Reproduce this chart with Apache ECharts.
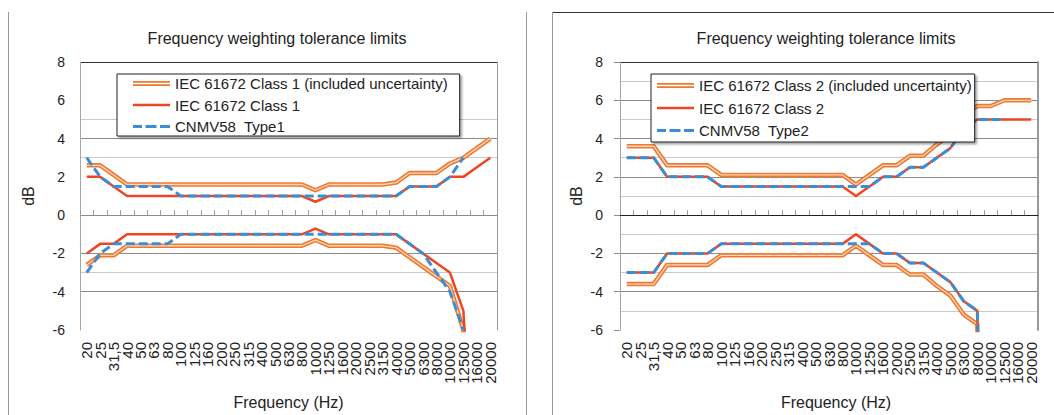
<!DOCTYPE html>
<html><head><meta charset="utf-8">
<script src="https://cdn.jsdelivr.net/npm/echarts@6/dist/echarts.min.js"></script>
<style>html,body{margin:0;padding:0;background:#fff}#c{width:1054px;height:415px}</style>
</head><body><div id="c"></div>
<script>
const categories = ['20','25','31,5','40','50','63','80','100','125','160','200','250','315','400','500','630','800','1000','1250','1600','2000','2500','3150','4000','5000','6300','8000','10000','12500','16000','20000'];

// Left chart (Class 1 / Type 1)
const c1UncUpper = [2.6,2.6,2.1,1.6,1.6,1.6,1.6,1.6,1.6,1.6,1.6,1.6,1.6,1.6,1.6,1.6,1.6,1.3,1.6,1.6,1.6,1.6,1.6,1.7,2.2,2.2,2.2,2.7,3.0,3.5,4.0];
const c1UncLower = [-2.6,-2.1,-2.1,-1.6,-1.6,-1.6,-1.6,-1.6,-1.6,-1.6,-1.6,-1.6,-1.6,-1.6,-1.6,-1.6,-1.6,-1.3,-1.6,-1.6,-1.6,-1.6,-1.6,-1.7,-2.2,-2.7,-3.2,-3.7,-6.0,-17,null];
const c1Upper = [2.0,2.0,1.5,1.0,1.0,1.0,1.0,1.0,1.0,1.0,1.0,1.0,1.0,1.0,1.0,1.0,1.0,0.7,1.0,1.0,1.0,1.0,1.0,1.0,1.5,1.5,1.5,2.0,2.0,2.5,3.0];
const c1Lower = [-2.0,-1.5,-1.5,-1.0,-1.0,-1.0,-1.0,-1.0,-1.0,-1.0,-1.0,-1.0,-1.0,-1.0,-1.0,-1.0,-1.0,-0.7,-1.0,-1.0,-1.0,-1.0,-1.0,-1.0,-1.5,-2.0,-2.5,-3.0,-5.0,-16,null];
const t1Upper = [3.0,2.0,1.5,1.5,1.5,1.5,1.5,1.0,1.0,1.0,1.0,1.0,1.0,1.0,1.0,1.0,1.0,1.0,1.0,1.0,1.0,1.0,1.0,1.0,1.5,1.5,1.5,2.0,3.0,null,null];
const t1Lower = [-3.0,-2.0,-1.5,-1.5,-1.5,-1.5,-1.5,-1.0,-1.0,-1.0,-1.0,-1.0,-1.0,-1.0,-1.0,-1.0,-1.0,-1.0,-1.0,-1.0,-1.0,-1.0,-1.0,-1.0,-1.5,-2.0,-3.0,-4.0,-6.0,null,null];

// Right chart (Class 2 / Type 2)
const c2UncUpper = [3.6,3.6,3.6,2.6,2.6,2.6,2.6,2.1,2.1,2.1,2.1,2.1,2.1,2.1,2.1,2.1,2.1,1.6,2.1,2.6,2.6,3.1,3.1,3.7,4.2,5.2,5.7,5.7,6.0,6.0,6.0];
const c2UncLower = [-3.6,-3.6,-3.6,-2.6,-2.6,-2.6,-2.6,-2.1,-2.1,-2.1,-2.1,-2.1,-2.1,-2.1,-2.1,-2.1,-2.1,-1.6,-2.1,-2.6,-2.6,-3.1,-3.1,-3.7,-4.2,-5.2,-5.7,-50,null,null,null];
const c2Upper = [3.0,3.0,3.0,2.0,2.0,2.0,2.0,1.5,1.5,1.5,1.5,1.5,1.5,1.5,1.5,1.5,1.5,1.0,1.5,2.0,2.0,2.5,2.5,3.0,3.5,4.5,5.0,5.0,5.0,5.0,5.0];
const c2Lower = [-3.0,-3.0,-3.0,-2.0,-2.0,-2.0,-2.0,-1.5,-1.5,-1.5,-1.5,-1.5,-1.5,-1.5,-1.5,-1.5,-1.5,-1.0,-1.5,-2.0,-2.0,-2.5,-2.5,-3.0,-3.5,-4.5,-5.0,-50,null,null,null];
const t2Upper = [3.0,3.0,3.0,2.0,2.0,2.0,2.0,1.5,1.5,1.5,1.5,1.5,1.5,1.5,1.5,1.5,1.5,1.5,1.5,2.0,2.0,2.5,2.5,3.0,3.5,4.5,5.0,5.0,5.0,null,null];
const t2Lower = [-3.0,-3.0,-3.0,-2.0,-2.0,-2.0,-2.0,-1.5,-1.5,-1.5,-1.5,-1.5,-1.5,-1.5,-1.5,-1.5,-1.5,-1.5,-1.5,-2.0,-2.0,-2.5,-2.5,-3.0,-3.5,-4.5,-5.0,-50,null,null,null];

const titleText = 'Frequency weighting tolerance limits';
const xName = 'Frequency (Hz)';
const yName = 'dB';
const names1 = ['IEC 61672 Class 1 (included uncertainty)', 'IEC 61672 Class 1', 'CNMV58  Type1'];
const names2 = ['IEC 61672 Class 2 (included uncertainty)', 'IEC 61672 Class 2', 'CNMV58  Type2'];

const FONT = '"Liberation Sans", Arial, sans-serif';
const TXT = '#222';
const ORANGE = '#EE7A2F', ORANGE_IN = '#FAD6BC', RED = '#EE4523', BLUE = '#3B8DD5';
const DASH = [9, 4];

function ls(name, data, gi, color, width, type, z) {
  return {
    type: 'line', name, data, xAxisIndex: gi, yAxisIndex: gi * 2,
    symbol: 'none', showSymbol: false, silent: true, animation: false,
    connectNulls: false, clip: true, z,
    lineStyle: { color, width, type, cap: 'butt', join: 'round' },
    itemStyle: { color }, emphasis: { disabled: true }
  };
}
function seriesFor(gi, names, uu, ul, u, l, tu, tl) {
  return [
    ls(names[0], uu, gi, ORANGE, 4.5, 'solid', 2),
    ls(names[0], ul, gi, ORANGE, 4.5, 'solid', 2),
    ls('_in' + gi + 'a', uu, gi, ORANGE_IN, 1.3, 'solid', 3),
    ls('_in' + gi + 'b', ul, gi, ORANGE_IN, 1.3, 'solid', 3),
    ls(names[1], u, gi, RED, 2.5, 'solid', 4),
    ls(names[1], l, gi, RED, 2.5, 'solid', 4),
    ls(names[2], tu, gi, BLUE, 3, DASH, 5),
    ls(names[2], tl, gi, BLUE, 3, DASH, 5)
  ];
}
const ICON_DOUBLE = 'path://M0,0H37V1.8H0Z M0,3.2H37V5H0Z';
const ICON_SOLID = 'path://M0,0H37V2.5H0Z';
const ICON_DASH = 'path://M0,0H9V3H0Z M12.5,0H23.5V3H12.5Z M27,0H37V3H27Z';
function legendFor(names, left, top, padding, gap) {
  return {
    orient: 'vertical', left, top, padding, itemGap: gap,
    itemWidth: 37, itemHeight: 5, symbolKeepAspect: true,
    backgroundColor: '#fff', borderColor: '#222', borderWidth: 1,
    shadowColor: 'rgba(0,0,0,0.35)', shadowOffsetX: 2, shadowOffsetY: 2, shadowBlur: 2,
    selectedMode: false, z: 10,
    textStyle: { fontSize: 15, color: TXT, fontFamily: FONT, lineHeight: 17 },
    data: [
      { name: names[0], icon: ICON_DOUBLE, itemStyle: { color: ORANGE, borderWidth: 0, borderColor: 'transparent' } },
      { name: names[1], icon: ICON_SOLID, itemStyle: { color: RED, borderWidth: 0, borderColor: 'transparent' } },
      { name: names[2], icon: ICON_DASH, itemStyle: { color: BLUE, borderWidth: 0, borderColor: 'transparent' } }
    ]
  };
}
function xAxisFor(gi, lineColor, namePad) {
  return {
    gridIndex: gi, type: 'category', data: categories, boundaryGap: true,
    axisLine: { show: true, lineStyle: { color: lineColor, width: 1 } },
    axisTick: { show: true, inside: true, length: 5, alignWithLabel: false, lineStyle: { color: '#9a9a9a' } },
    axisLabel: { interval: 0, rotate: 90, fontSize: 15, color: TXT, fontFamily: FONT, margin: 12 },
    splitLine: { show: false },
    name: xName, nameLocation: 'middle', nameGap: 64,
    nameTextStyle: { fontSize: 16, color: TXT, fontFamily: FONT, padding: namePad }
  };
}
const T = 'rgba(0,0,0,0)', D = '#8c8c8c', L = '#c9c9c9';
const leftGridColors = [T, T, D, L, D, T, D, T, T, L, D, L, T, T, '#333'];
const rightGridColors = [T, D, D, D, D, D, D, '#333'];

const option = {
  animation: false,
  backgroundColor: '#fff',
  textStyle: { fontFamily: FONT },
  grid: [
    { left: 80, top: 62, width: 417, height: 268 },
    { left: 620, top: 62, width: 418, height: 270 }
  ],
  xAxis: [ xAxisFor(0, T, [0,0,0,0]), xAxisFor(1, '#222', [0,0,0,14]) ],
  yAxis: [
    {
      gridIndex: 0, type: 'value', min: -6, max: 8, interval: 1,
      axisLine: { show: true, lineStyle: { color: '#a6a6a6' } },
      axisTick: { show: false },
      axisLabel: { formatter: v => (v % 2 === 0 ? String(v) : ''), fontSize: 14, color: TXT, fontFamily: FONT, margin: 15 },
      splitLine: { show: true, lineStyle: { color: leftGridColors, width: 1 } },
      name: yName, nameLocation: 'middle', nameRotate: 90, nameGap: 44,
      nameTextStyle: { fontSize: 16, color: TXT, fontFamily: FONT }
    },
    {
      gridIndex: 0, type: 'value', position: 'right', min: -6, max: 8, interval: 2,
      axisLine: { show: true, lineStyle: { color: '#9a9a9a' } },
      axisTick: { show: false }, axisLabel: { show: false }, splitLine: { show: false }
    },
    {
      gridIndex: 1, type: 'value', min: -6, max: 8, interval: 2,
      axisLine: { show: true, lineStyle: { color: '#a6a6a6' } },
      axisTick: { show: true, inside: false, length: 6, lineStyle: { color: '#8c8c8c' } },
      minorTick: { show: false, splitNumber: 2 },
      minorSplitLine: { show: true, lineStyle: { color: L } },
      axisLabel: { fontSize: 14, color: TXT, fontFamily: FONT, margin: 17 },
      splitLine: { show: true, lineStyle: { color: rightGridColors, width: 1 } },
      name: yName, nameLocation: 'middle', nameRotate: 90, nameGap: 36,
      nameTextStyle: { fontSize: 16, color: TXT, fontFamily: FONT }
    },
    {
      gridIndex: 1, type: 'value', position: 'right', min: -6, max: 8, interval: 2,
      axisLine: { show: true, lineStyle: { color: '#9a9a9a', width: 2 } },
      axisTick: { show: false }, axisLabel: { show: false }, splitLine: { show: false }
    }
  ],
  legend: [
    legendFor(names1, 117, 74, [1, 12, 1, 16], 4.5),
    legendFor(names2, 651, 74, [3, 3, 3, 6], 5.5)
  ],
  graphic: [
    { type: 'line', silent: true, shape: { x1: 8.5, y1: 12, x2: 8.5, y2: 415 }, style: { stroke: '#9a9a9a', lineWidth: 1 } },
    { type: 'line', silent: true, shape: { x1: 526.5, y1: 12, x2: 526.5, y2: 415 }, style: { stroke: '#9a9a9a', lineWidth: 1 } },
    { type: 'line', silent: true, shape: { x1: 552.5, y1: 12.5, x2: 1054, y2: 12.5 }, style: { stroke: '#333', lineWidth: 1 } },
    { type: 'line', silent: true, shape: { x1: 552.5, y1: 12.5, x2: 552.5, y2: 415 }, style: { stroke: '#9a9a9a', lineWidth: 1 } },
    { type: 'text', silent: true, x: 277, y: 38, style: { text: titleText, fill: TXT, font: '16px ' + FONT, align: 'center', verticalAlign: 'middle' } },
    { type: 'text', silent: true, x: 826, y: 38, style: { text: titleText, fill: TXT, font: '16px ' + FONT, align: 'center', verticalAlign: 'middle' } }
  ],
  series: [].concat(
    seriesFor(0, names1, c1UncUpper, c1UncLower, c1Upper, c1Lower, t1Upper, t1Lower),
    seriesFor(1, names2, c2UncUpper, c2UncLower, c2Upper, c2Lower, t2Upper, t2Lower)
  )
};
const chart = echarts.init(document.getElementById('c'), null, { renderer: 'svg', width: 1054, height: 415 });
chart.setOption(option);
</script>
</body></html>
